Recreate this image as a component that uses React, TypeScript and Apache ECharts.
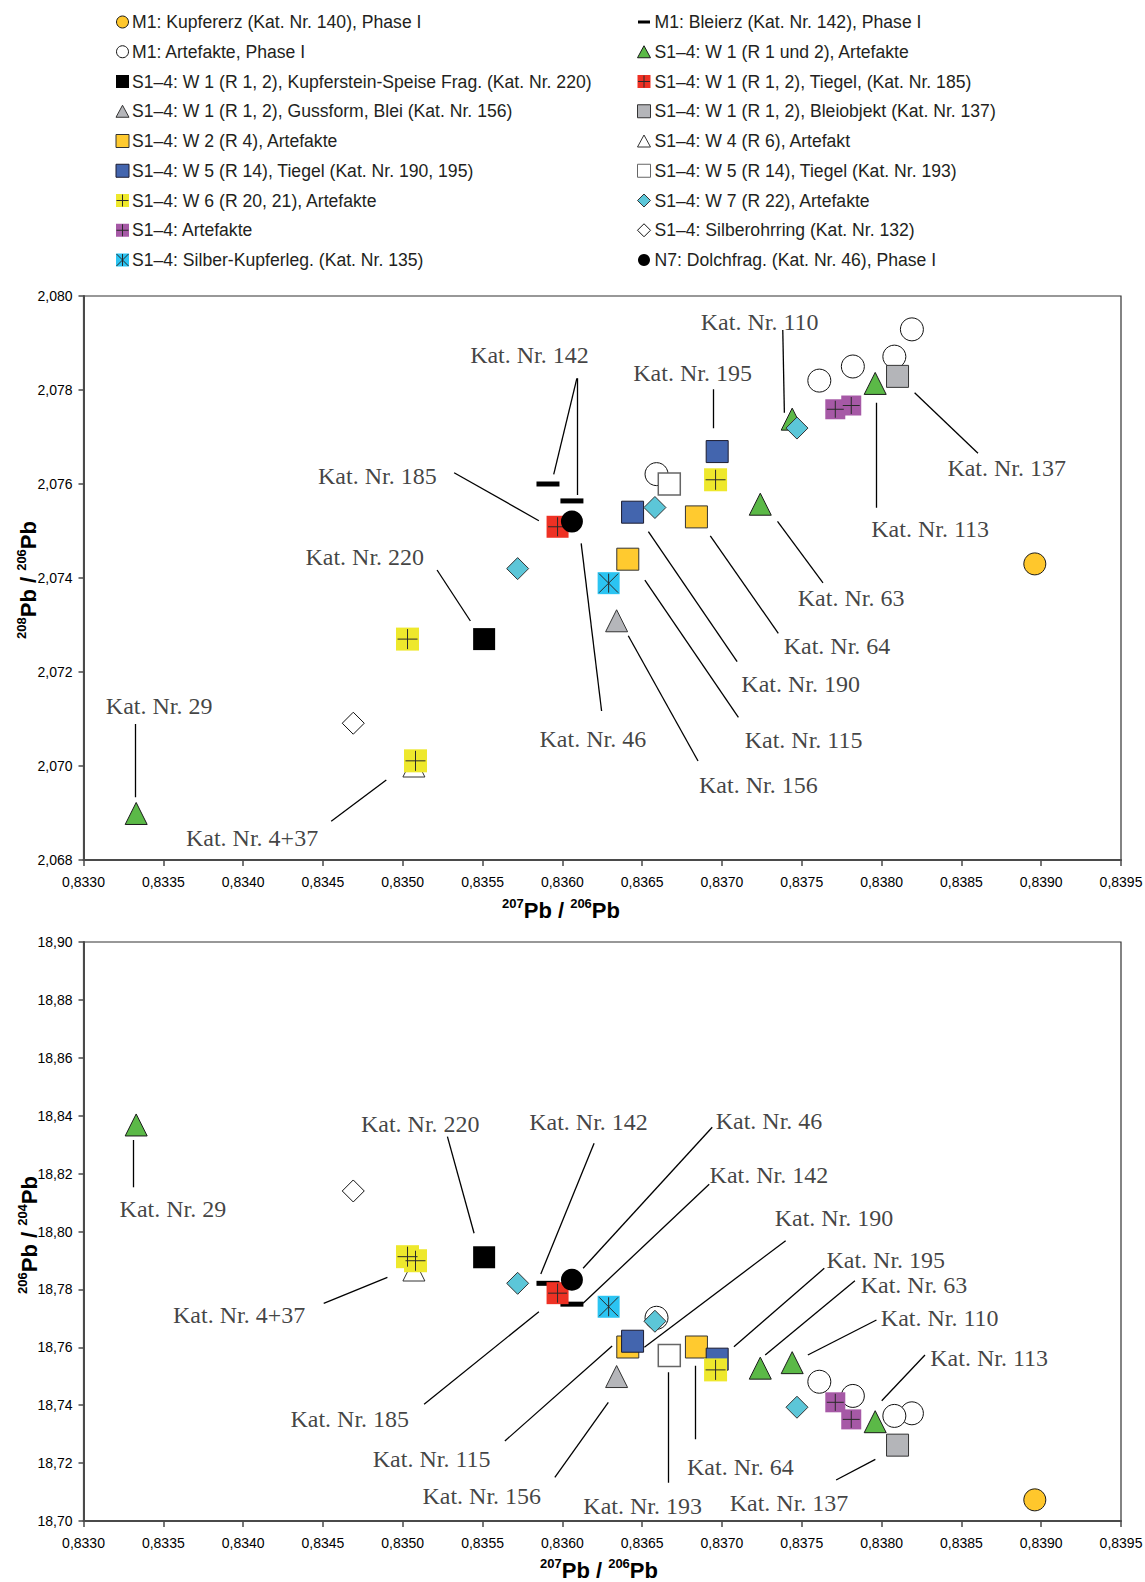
import React, { useEffect, useRef } from 'react';
import * as echarts from 'echarts';

const W = 1145;
const H = 1582;
const FONT_SANS = '"Liberation Sans", Arial, sans-serif';
const FONT_SERIF = '"Liberation Serif", "Times New Roman", serif';

// ---------------- axes ----------------
const X_MIN = 0.833, X_MAX = 0.8395, X_STEP = 0.0005;
const Y1_MIN = 2.068, Y1_MAX = 2.08, Y1_STEP = 0.002;
const Y2_MIN = 18.7, Y2_MAX = 18.9, Y2_STEP = 0.02;

// ---------------- data: x = 207Pb/206Pb, y208 = 208Pb/206Pb, y206 = 206Pb/204Pb ----------------
const KUPFERERZ_X = [0.83896];
const KUPFERERZ_Y208 = [2.0743];
const KUPFERERZ_Y206 = [18.7073];

const BLEIERZ_X = [0.83591, 0.83606];
const BLEIERZ_Y208 = [2.076, 2.07564];
const BLEIERZ_Y206 = [18.7821, 18.7749];

const M1_ART_X = [0.83819, 0.83808, 0.83782, 0.83761, 0.83659];
const M1_ART_Y208 = [2.07929, 2.07871, 2.0785, 2.0782, 2.07621];
const M1_ART_Y206 = [18.7372, 18.7363, 18.7432, 18.7481, 18.7702];

const W1_ART_X = [0.83333, 0.83744, 0.83796, 0.83724];
const W1_ART_Y208 = [2.06899, 2.07738, 2.07814, 2.07557];
const W1_ART_Y206 = [18.8368, 18.7547, 18.7343, 18.7528];

const KUPFERSTEIN_X = [0.83551];
const KUPFERSTEIN_Y208 = [2.0727];
const KUPFERSTEIN_Y206 = [18.7911];

const TIEGEL185_X = [0.83597];
const TIEGEL185_Y208 = [2.07509];
const TIEGEL185_Y206 = [18.7787];

const GUSSFORM_X = [0.83634];
const GUSSFORM_Y208 = [2.07309];
const GUSSFORM_Y206 = [18.7499];

const BLEIOBJEKT_X = [0.8381];
const BLEIOBJEKT_Y208 = [2.07829];
const BLEIOBJEKT_Y206 = [18.7262];

const W2_ART_X = [0.83684, 0.83641];
const W2_ART_Y208 = [2.0753, 2.0744];
const W2_ART_Y206 = [18.7601, 18.7601];

const W4_ART_X = [0.83507];
const W4_ART_Y208 = [2.07];
const W4_ART_Y206 = [18.7867];

const W5_TIEGEL_X = [0.83697, 0.83644];
const W5_TIEGEL_Y208 = [2.07669, 2.0754];
const W5_TIEGEL_Y206 = [18.7559, 18.7621];

const W5_T193_X = [0.83667];
const W5_T193_Y208 = [2.076];
const W5_T193_Y206 = [18.7572];

const W6_ART_X = [0.83503, 0.83508, 0.83696];
const W6_ART_Y208 = [2.0727, 2.07011, 2.07609];
const W6_ART_Y206 = [18.7913, 18.7899, 18.7522];

const W7_ART_X = [0.83572, 0.83658, 0.83747];
const W7_ART_Y208 = [2.0742, 2.0755, 2.07719];
const W7_ART_Y206 = [18.7821, 18.769, 18.7393];

const S14_ART_X = [0.83771, 0.83781];
const S14_ART_Y208 = [2.07759, 2.07767];
const S14_ART_Y206 = [18.741, 18.7351];

const OHRRING_X = [0.83469];
const OHRRING_Y208 = [2.07091];
const OHRRING_Y206 = [18.814];

const LEGIERUNG_X = [0.83629];
const LEGIERUNG_Y208 = [2.07389];
const LEGIERUNG_Y206 = [18.774];

const DOLCH_X = [0.83606];
const DOLCH_Y208 = [2.0752];
const DOLCH_Y206 = [18.7833];

// ---------------- annotations (data coordinates) ----------------
const TOP_LABELS = ['Kat. Nr. 142', 'Kat. Nr. 185', 'Kat. Nr. 220', 'Kat. Nr. 29', 'Kat. Nr. 4+37', 'Kat. Nr. 46', 'Kat. Nr. 110', 'Kat. Nr. 195', 'Kat. Nr. 137', 'Kat. Nr. 113', 'Kat. Nr. 63', 'Kat. Nr. 64', 'Kat. Nr. 190', 'Kat. Nr. 115', 'Kat. Nr. 156'];
const TOP_LABEL_POS = [
  [0.835794, 2.078745], [0.834841, 2.07617], [0.834762, 2.07444], [0.833474, 2.071277], [0.834056, 2.068462],
  [0.836191, 2.070564], [0.837236, 2.079453], [0.836816, 2.078355], [0.838784, 2.076334], [0.838304, 2.075036],
  [0.837809, 2.073568], [0.837721, 2.072553], [0.837493, 2.071745], [0.837511, 2.070553], [0.837228, 2.069596],
];
const TOP_LEADERS = [
  [[0.836091, 2.078249], [0.835946, 2.076206]],
  [[0.836091, 2.078249], [0.836091, 2.075766]],
  [[0.835322, 2.07624], [0.835853, 2.075219]],
  [[0.835215, 2.07417], [0.835424, 2.073085]],
  [[0.833322, 2.070894], [0.833322, 2.069334]],
  [[0.834552, 2.068823], [0.834897, 2.069702]],
  [[0.836118, 2.074738], [0.836246, 2.07117]],
  [[0.837381, 2.079277], [0.837391, 2.077517]],
  [[0.836944, 2.078015], [0.836944, 2.077185]],
  [[0.838207, 2.077943], [0.838604, 2.076653]],
  [[0.837964, 2.07773], [0.837964, 2.075496]],
  [[0.837348, 2.075206], [0.837633, 2.073894]],
  [[0.836927, 2.074894], [0.837353, 2.072823]],
  [[0.836539, 2.074985], [0.837095, 2.072219]],
  [[0.836517, 2.073957], [0.837103, 2.071036]],
  [[0.836413, 2.072772], [0.83685, 2.070106]],
];

const BOT_LABELS = ['Kat. Nr. 29', 'Kat. Nr. 220', 'Kat. Nr. 142', 'Kat. Nr. 46', 'Kat. Nr. 142', 'Kat. Nr. 190', 'Kat. Nr. 195', 'Kat. Nr. 63', 'Kat. Nr. 110', 'Kat. Nr. 113', 'Kat. Nr. 64', 'Kat. Nr. 193', 'Kat. Nr. 137', 'Kat. Nr. 156', 'Kat. Nr. 115', 'Kat. Nr. 185', 'Kat. Nr. 4+37'];
const BOT_LABEL_POS = [
  [0.83356, 18.80767], [0.83511, 18.83713], [0.836164, 18.83782], [0.837295, 18.83817], [0.837294, 18.81952],
  [0.837702, 18.80456], [0.838026, 18.79016], [0.838203, 18.78152], [0.838364, 18.77002], [0.838674, 18.7562],
  [0.837115, 18.71876], [0.836503, 18.70518], [0.83742, 18.70611], [0.835495, 18.70864], [0.835181, 18.72142],
  [0.834668, 18.73513], [0.833975, 18.77116],
];
const BOT_LEADERS = [
  [[0.833313, 18.83161], [0.833313, 18.81527]],
  [[0.83528, 18.83275], [0.835447, 18.79938]],
  [[0.836199, 18.83047], [0.835865, 18.78532]],
  [[0.836939, 18.83599], [0.83613, 18.78729]],
  [[0.83692, 18.8163], [0.83613, 18.7752]],
  [[0.837399, 18.79682], [0.836514, 18.76]],
  [[0.837641, 18.78729], [0.837075, 18.76021]],
  [[0.837833, 18.78301], [0.837271, 18.75734]],
  [[0.837968, 18.76943], [0.837538, 18.75734]],
  [[0.838272, 18.75734], [0.838001, 18.74155]],
  [[0.836833, 18.75364], [0.836833, 18.72822]],
  [[0.836665, 18.75136], [0.836665, 18.71323]],
  [[0.837961, 18.72131], [0.837715, 18.71416]],
  [[0.835953, 18.7151], [0.836288, 18.741]],
  [[0.83564, 18.72763], [0.836312, 18.76045]],
  [[0.835134, 18.74031], [0.835853, 18.7723]],
  [[0.834505, 18.7752], [0.834904, 18.78418]],
];

// ---------------- groups & styles ----------------
type Sty = { symbol: string; size: number | number[]; fill: string; stroke?: string; lw?: number; overlay?: 'plus' | 'star' };
type Group = { id: string; name: string; x: number[]; y208: number[]; y206: number[]; st: Sty };

const G: Record<string, Group> = {
  kupfererz: { id: 'kupfererz', name: 'M1: Kupfererz (Kat. Nr. 140), Phase I', x: KUPFERERZ_X, y208: KUPFERERZ_Y208, y206: KUPFERERZ_Y206, st: { symbol: 'circle', size: 22, fill: '#FFC72C', stroke: '#1a1a1a', lw: 1 } },
  bleierz: { id: 'bleierz', name: 'M1: Bleierz (Kat. Nr. 142), Phase I', x: BLEIERZ_X, y208: BLEIERZ_Y208, y206: BLEIERZ_Y206, st: { symbol: 'rect', size: [23, 5], fill: '#000' } },
  m1art: { id: 'm1art', name: 'M1: Artefakte, Phase I', x: M1_ART_X, y208: M1_ART_Y208, y206: M1_ART_Y206, st: { symbol: 'circle', size: 23, fill: '#fff', stroke: '#111', lw: 1 } },
  w1art: { id: 'w1art', name: 'S1–4: W 1 (R 1 und 2), Artefakte', x: W1_ART_X, y208: W1_ART_Y208, y206: W1_ART_Y206, st: { symbol: 'triangle', size: 22, fill: '#5BB947', stroke: '#1a1a1a', lw: 1 } },
  kupferstein: { id: 'kupferstein', name: 'S1–4: W 1 (R 1, 2), Kupferstein-Speise Frag. (Kat. Nr. 220)', x: KUPFERSTEIN_X, y208: KUPFERSTEIN_Y208, y206: KUPFERSTEIN_Y206, st: { symbol: 'rect', size: 22, fill: '#000' } },
  tiegel185: { id: 'tiegel185', name: 'S1–4: W 1 (R 1, 2), Tiegel, (Kat. Nr. 185)', x: TIEGEL185_X, y208: TIEGEL185_Y208, y206: TIEGEL185_Y206, st: { symbol: 'rect', size: 22, fill: '#EE3124', overlay: 'plus' } },
  gussform: { id: 'gussform', name: 'S1–4: W 1 (R 1, 2), Gussform, Blei (Kat. Nr. 156)', x: GUSSFORM_X, y208: GUSSFORM_Y208, y206: GUSSFORM_Y206, st: { symbol: 'triangle', size: 22, fill: '#B5B6BA', stroke: '#333', lw: 1 } },
  bleiobjekt: { id: 'bleiobjekt', name: 'S1–4: W 1 (R 1, 2), Bleiobjekt (Kat. Nr. 137)', x: BLEIOBJEKT_X, y208: BLEIOBJEKT_Y208, y206: BLEIOBJEKT_Y206, st: { symbol: 'rect', size: 22, fill: '#B4B5B9', stroke: '#333', lw: 1 } },
  w2: { id: 'w2', name: 'S1–4: W 2 (R 4), Artefakte', x: W2_ART_X, y208: W2_ART_Y208, y206: W2_ART_Y206, st: { symbol: 'rect', size: 22, fill: '#FFCA2F', stroke: '#333', lw: 1 } },
  w4: { id: 'w4', name: 'S1–4: W 4 (R 6), Artefakt', x: W4_ART_X, y208: W4_ART_Y208, y206: W4_ART_Y206, st: { symbol: 'triangle', size: 22, fill: '#fff', stroke: '#333', lw: 1 } },
  w5: { id: 'w5', name: 'S1–4: W 5 (R 14), Tiegel (Kat. Nr. 190, 195)', x: W5_TIEGEL_X, y208: W5_TIEGEL_Y208, y206: W5_TIEGEL_Y206, st: { symbol: 'rect', size: 22, fill: '#4365AE', stroke: '#1c1c30', lw: 1 } },
  w5t193: { id: 'w5t193', name: 'S1–4: W 5 (R 14), Tiegel (Kat. Nr. 193)', x: W5_T193_X, y208: W5_T193_Y208, y206: W5_T193_Y206, st: { symbol: 'rect', size: 22, fill: '#fff', stroke: '#666', lw: 1.5 } },
  w6: { id: 'w6', name: 'S1–4: W 6 (R 20, 21), Artefakte', x: W6_ART_X, y208: W6_ART_Y208, y206: W6_ART_Y206, st: { symbol: 'rect', size: 23, fill: '#EEE82C', overlay: 'plus' } },
  w7: { id: 'w7', name: 'S1–4: W 7 (R 22), Artefakte', x: W7_ART_X, y208: W7_ART_Y208, y206: W7_ART_Y206, st: { symbol: 'diamond', size: 22, fill: '#5CC6D8', stroke: '#333', lw: 1 } },
  s14: { id: 's14', name: 'S1–4: Artefakte', x: S14_ART_X, y208: S14_ART_Y208, y206: S14_ART_Y206, st: { symbol: 'rect', size: 20, fill: '#A659A6', overlay: 'plus' } },
  ohrring: { id: 'ohrring', name: 'S1–4: Silberohrring (Kat. Nr. 132)', x: OHRRING_X, y208: OHRRING_Y208, y206: OHRRING_Y206, st: { symbol: 'diamond', size: 22, fill: '#fff', stroke: '#111', lw: 1 } },
  legierung: { id: 'legierung', name: 'S1–4: Silber-Kupferleg. (Kat. Nr. 135)', x: LEGIERUNG_X, y208: LEGIERUNG_Y208, y206: LEGIERUNG_Y206, st: { symbol: 'rect', size: 22, fill: '#2BC4F2', overlay: 'star' } },
  dolch: { id: 'dolch', name: 'N7: Dolchfrag. (Kat. Nr. 46), Phase I', x: DOLCH_X, y208: DOLCH_Y208, y206: DOLCH_Y206, st: { symbol: 'circle', size: 22, fill: '#000' } },
};

const DRAW_ORDER = ['m1art', 'w4', 'bleierz', 'w1art', 'kupfererz', 'kupferstein', 'tiegel185', 'gussform', 'bleiobjekt', 'w2', 'w5', 'w5t193', 'w6', 'w7', 's14', 'ohrring', 'legierung', 'dolch'];
const LEGEND_LEFT = ['kupfererz', 'm1art', 'kupferstein', 'gussform', 'w2', 'w5', 'w6', 's14', 'legierung'];
const LEGEND_RIGHT = ['bleierz', 'w1art', 'tiegel185', 'bleiobjekt', 'w4', 'w5t193', 'w7', 'ohrring', 'dolch'];

const OVERLAY_PATH: Record<string, string> = {
  plus: 'path://M10,0L10,20M0,10L20,10',
  star: 'path://M10,0L10,20M0,0L20,20M20,0L0,20',
};

const fmt = (d: number) => (v: number) => v.toFixed(d).replace('.', ',');

function buildSeries(gi: number, key: 'y208' | 'y206', labels: string[], labelPos: number[][], leaders: number[][][]) {
  const out: any[] = [];
  out.push({
    type: 'lines', coordinateSystem: 'cartesian2d', xAxisIndex: gi, yAxisIndex: gi, silent: true, z: 2,
    data: leaders.map((c) => ({ coords: c })),
    lineStyle: { color: '#000', width: 1.3, opacity: 1, curveness: 0 },
  });
  for (const id of DRAW_ORDER) {
    const g = G[id];
    const data = g.x.map((x, i) => [x, g[key][i]]);
    out.push({
      type: 'scatter', name: g.name, xAxisIndex: gi, yAxisIndex: gi, silent: true, z: 3,
      data, symbol: g.st.symbol, symbolSize: g.st.size,
      itemStyle: { color: g.st.fill, borderColor: g.st.stroke || 'rgba(0,0,0,0)', borderWidth: g.st.stroke ? g.st.lw || 1 : 0, opacity: 1 },
    });
    if (g.st.overlay) {
      const s = (g.st.size as number) - 3;
      out.push({
        type: 'scatter', xAxisIndex: gi, yAxisIndex: gi, silent: true, z: 3,
        data, symbol: OVERLAY_PATH[g.st.overlay], symbolSize: s,
        itemStyle: { color: 'rgba(0,0,0,0)', borderColor: '#2a2a2a', borderWidth: 1, opacity: 1 },
      });
    }
  }
  out.push({
    type: 'scatter', xAxisIndex: gi, yAxisIndex: gi, silent: true, z: 4,
    data: labels.map((t, i) => ({ name: t, value: labelPos[i] })),
    symbolSize: 1, itemStyle: { color: 'rgba(0,0,0,0)' },
    label: { show: true, position: 'inside', formatter: '{b}', fontFamily: FONT_SERIF, fontSize: 24, color: '#111' },
  });
  return out;
}

function legendIcon(st: Sty, cx: number, cy: number): any[] {
  const els: any[] = [];
  const style = { fill: st.fill, stroke: st.stroke || null, lineWidth: st.stroke ? 1 : 0 };
  if (Array.isArray(st.size)) {
    els.push({ type: 'rect', shape: { x: cx - 6, y: cy - 1.5, width: 12, height: 3 }, style });
  } else if (st.symbol === 'circle') {
    els.push({ type: 'circle', shape: { cx, cy, r: 6 }, style });
  } else if (st.symbol === 'rect') {
    els.push({ type: 'rect', shape: { x: cx - 6.5, y: cy - 6.5, width: 13, height: 13 }, style });
  } else if (st.symbol === 'triangle') {
    els.push({ type: 'polygon', shape: { points: [[cx, cy - 6], [cx + 6.5, cy + 6], [cx - 6.5, cy + 6]] }, style });
  } else if (st.symbol === 'diamond') {
    els.push({ type: 'polygon', shape: { points: [[cx, cy - 6.5], [cx + 6.5, cy], [cx, cy + 6.5], [cx - 6.5, cy]] }, style });
  }
  const ls = { stroke: '#2a2a2a', lineWidth: 1 };
  if (st.overlay === 'plus') {
    els.push({ type: 'line', shape: { x1: cx - 6, y1: cy, x2: cx + 6, y2: cy }, style: ls });
    els.push({ type: 'line', shape: { x1: cx, y1: cy - 6, x2: cx, y2: cy + 6 }, style: ls });
  } else if (st.overlay === 'star') {
    els.push({ type: 'line', shape: { x1: cx, y1: cy - 6, x2: cx, y2: cy + 6 }, style: ls });
    els.push({ type: 'line', shape: { x1: cx - 6, y1: cy - 6, x2: cx + 6, y2: cy + 6 }, style: ls });
    els.push({ type: 'line', shape: { x1: cx + 6, y1: cy - 6, x2: cx - 6, y2: cy + 6 }, style: ls });
  }
  return els;
}

function legendGraphics(): any[] {
  const els: any[] = [];
  const cols = [
    { ids: LEGEND_LEFT, cx: 122.5, tx: 132 },
    { ids: LEGEND_RIGHT, cx: 644, tx: 654.5 },
  ];
  for (const c of cols) {
    c.ids.forEach((id, i) => {
      const cy = 22 + i * 29.75;
      els.push(...legendIcon(G[id].st, c.cx, cy));
      els.push({
        type: 'text', x: c.tx, y: cy,
        style: { text: G[id].name, fill: '#231F20', fontSize: 17.6, fontFamily: FONT_SANS, align: 'left', verticalAlign: 'middle' },
      });
    });
  }
  return els;
}

const TITLE_RICH = {
  s: { fontSize: 13, fontWeight: 'bold', fontFamily: FONT_SANS, fill: '#000', verticalAlign: 'top' },
  b: { fontSize: 22, fontWeight: 'bold', fontFamily: FONT_SANS, fill: '#000', verticalAlign: 'bottom', lineHeight: 24 },
};

function titleText(text: string, x: number, y: number, rot: number) {
  return {
    type: 'text', x, y, rotation: rot, silent: true,
    style: { text, rich: TITLE_RICH, align: 'center', verticalAlign: 'middle', fontSize: 22, fontFamily: FONT_SANS, fontWeight: 'bold' },
  };
}

function xAxis(gi: number) {
  return {
    type: 'value', gridIndex: gi, min: X_MIN, max: X_MAX, interval: X_STEP,
    axisLine: { show: true, onZero: false, lineStyle: { color: '#4a4a4a', width: 2 } },
    axisTick: { show: true, inside: false, length: 6, lineStyle: { color: '#4a4a4a', width: 1.5 } },
    axisLabel: { show: true, margin: 15, fontSize: 14, fontFamily: FONT_SANS, color: '#000', formatter: fmt(4), showMinLabel: true, showMaxLabel: true },
    splitLine: { show: false },
  };
}
function yAxis(gi: number, min: number, max: number, step: number, dec: number) {
  return {
    type: 'value', gridIndex: gi, min, max, interval: step,
    axisLine: { show: true, onZero: false, lineStyle: { color: '#4a4a4a', width: 2 } },
    axisTick: { show: true, inside: false, length: 5, lineStyle: { color: '#4a4a4a', width: 1.5 } },
    axisLabel: { show: true, margin: 11, fontSize: 14, fontFamily: FONT_SANS, color: '#000', formatter: fmt(dec), showMinLabel: true, showMaxLabel: true },
    splitLine: { show: false },
  };
}

export default function App() {
  const ref = useRef<HTMLDivElement>(null);
  useEffect(() => {
    document.body.style.margin = '0';
    const chart = echarts.init(ref.current as HTMLDivElement, null, { renderer: 'svg', width: W, height: H });
    const option: any = {
      animation: false,
      backgroundColor: '#fff',
      grid: [
        { left: 83.5, top: 296, width: 1037.5, height: 564, show: true, borderColor: '#333', borderWidth: 1.2, backgroundColor: 'rgba(0,0,0,0)', containLabel: false, outerBoundsMode: 'none' },
        { left: 83.5, top: 942, width: 1037.5, height: 579, show: true, borderColor: '#333', borderWidth: 1.2, backgroundColor: 'rgba(0,0,0,0)', containLabel: false, outerBoundsMode: 'none' },
      ],
      xAxis: [xAxis(0), xAxis(1)],
      yAxis: [yAxis(0, Y1_MIN, Y1_MAX, Y1_STEP, 3), yAxis(1, Y2_MIN, Y2_MAX, Y2_STEP, 2)],
      series: [
        ...buildSeries(0, 'y208', TOP_LABELS, TOP_LABEL_POS, TOP_LEADERS),
        ...buildSeries(1, 'y206', BOT_LABELS, BOT_LABEL_POS, BOT_LEADERS),
      ],
      graphic: {
        elements: [
          ...legendGraphics(),
          titleText('{s|207}{b|Pb / }{s|206}{b|Pb}', 561, 909, 0),
          titleText('{s|207}{b|Pb / }{s|206}{b|Pb}', 599, 1569, 0),
          titleText('{s|208}{b|Pb / }{s|206}{b|Pb}', 27, 580, Math.PI / 2),
          titleText('{s|206}{b|Pb / }{s|204}{b|Pb}', 28, 1235, Math.PI / 2),
        ],
      },
    };
    chart.setOption(option);
    return () => chart.dispose();
  }, []);
  return <div ref={ref} style={{ position: 'absolute', left: 0, top: 0, width: W, height: H, background: '#fff' }} />;
}
